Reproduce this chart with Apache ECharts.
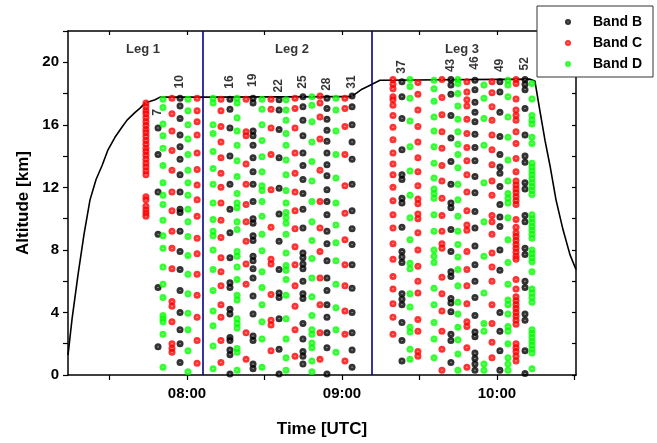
<!DOCTYPE html>
<html>
<head>
<meta charset="utf-8">
<script src="https://cdn.jsdelivr.net/npm/echarts@6/dist/echarts.min.js"></script>
<style>
  html, body { margin: 0; padding: 0; background: #fff; }
  #chart { width: 657px; height: 443px; }
</style>
</head>
<body>
<div id="chart"></div>
<script>
// Sounding profiles: id, time (decimal hours UTC), band, altitudes (km)
const profileIds = [6,7,8,9,10,11,12,14,15,16,17,18,19,20,21,22,23,24,25,26,27,28,29,30,31,36,37,38,39,41,42,43,44,45,46,47,48,49,50,51,52,53];
const profileTimes = [7.735,7.813,7.845,7.903,7.955,8.006,8.065,8.168,8.219,8.277,8.323,8.381,8.426,8.484,8.542,8.594,8.639,8.697,8.748,8.806,8.858,8.903,8.961,9.019,9.065,9.329,9.387,9.439,9.490,9.594,9.645,9.703,9.748,9.806,9.858,9.916,9.968,10.019,10.071,10.123,10.181,10.226];
const profileBands = ['C','B','D','C','B','D','C','D','C','B','D','C','B','D','C','B','D','C','B','D','C','B','D','C','B','C','B','D','C','D','C','B','D','C','B','D','C','B','D','C','B','D'];
const profileAltitudes = [
  [17.4,17.15,16.9,16.7,16.45,16.2,15.95,15.7,15.5,15.25,15.0,14.75,14.5,14.3,14.05,13.8,13.55,13.3,13.05,12.8,11.4,11.2,10.8,10.55,10.35,10.15],
  [15.8,14.1,11.7,9.0,5.6,1.8],
  [17.64,17.1,16.05,15.3,14.5,13.4,12.3,11.5,10.9,9.9,8.9,8.1,6.9,5.8,4.95,3.8,3.6,3.4,2.6,0.5],
  [17.7,16.7,15.6,14.35,13.1,11.7,10.5,9.2,8.1,6.8,4.7,4.4,3.4,2.0,1.7,1.45],
  [17.7,17.2,16.4,15.35,14.6,13.8,12.8,11.7,10.6,10.4,9.2,7.9,6.75,5.4,4.0,2.9,2.0,0.8],
  [17.64,16.9,16.0,15.1,14.1,13.1,12.3,11.5,10.6,9.8,8.85,7.65,6.45,5.2,3.95,2.9,1.55,0.2],
  [17.7,16.9,16.2,15.35,14.2,13.15,12.15,11.2,10.15,8.75,7.75,6.45,5.1,3.7,2.2,0.75],
  [17.7,17.4,16.0,15.45,14.3,13.2,12.2,11.0,9.95,9.2,8.9,8.0,6.75,5.4,4.1,3.15,1.85,0.4],
  [17.64,16.9,15.9,14.9,13.9,12.9,12.0,11.0,9.9,8.8,7.5,6.6,5.7,4.5,3.7,2.2,0.8],
  [17.64,17.0,15.8,14.0,12.2,10.6,9.1,7.5,5.9,5.6,4.2,3.9,2.4,2.2,1.6,1.3,0.06],
  [17.7,17.4,16.45,15.6,14.7,13.7,12.7,11.6,11.0,10.7,9.8,9.3,7.9,7.6,6.9,6.1,5.1,4.8,3.6,3.3,3.0,1.7,1.45,0.3],
  [17.64,15.55,15.3,13.5,12.2,10.9,9.8,8.55,7.1,5.8,2.7,1.0],
  [17.7,17.4,15.6,15.3,14.7,13.9,13.0,12.2,11.1,10.0,9.7,8.9,8.6,7.6,7.3,6.8,6.2,5.05,3.9,2.5,2.2,0.7,0.4],
  [17.64,17.0,16.0,15.0,13.95,13.0,12.1,11.8,11.1,10.15,9.0,7.95,6.6,5.6,4.5,3.4,2.3,0.5],
  [17.64,17.0,15.8,14.1,11.85,9.45,7.4,7.1,5.15,3.5,3.2,1.55],
  [17.6,16.95,15.7,13.9,11.95,10.3,8.55,6.75,5.25,4.95,3.6,1.65,0.06],
  [17.6,16.95,16.3,15.45,14.7,13.75,12.8,11.8,11.0,10.4,10.05,9.7,9.0,7.8,7.0,6.7,6.1,5.1,3.6,2.3,1.1,0.3],
  [17.7,17.05,15.8,14.2,12.9,11.7,10.5,9.35,8.2,7.05,5.7,4.4,2.9,1.2],
  [17.8,17.15,16.3,15.3,14.2,13.4,12.5,11.6,10.6,9.4,7.8,7.5,7.1,6.8,6.0,5.2,4.9,3.3,2.3,1.5,1.2,0.7],
  [17.8,17.25,16.2,14.9,13.65,12.4,11.1,9.8,8.6,7.45,6.2,5.0,3.8,2.9,2.6,2.05,1.75,0.9,0.2],
  [17.85,17.4,16.5,15.1,13.1,11.1,9.4,7.9,6.2,4.5,2.7,1.0],
  [17.7,17.05,16.35,15.65,14.95,14.2,13.45,12.75,11.85,11.1,10.25,9.2,8.4,7.3,6.2,5.4,4.5,3.7,2.7,1.75,0.06],
  [17.7,16.95,15.6,14.1,12.6,11.0,9.6,8.45,7.3,5.8,4.3,2.9,1.45],
  [17.7,17.05,15.9,14.1,12.1,10.35,8.65,7.05,5.7,4.1,2.6,0.9],
  [17.85,17.15,16.0,14.9,13.8,12.2,10.5,9.35,8.35,7.05,5.55,4.0,2.7,1.6,0.5],
  [18.9,18.6,18.3,17.8,17.6,17.25,16.6,15.85,15.05,14.2,13.5,12.8,12.0,11.15,10.25,9.4,8.4,7.4,6.3,5.5,4.55,3.7,2.6],
  [18.75,17.8,16.4,14.4,12.8,12.5,11.3,11.0,9.45,7.9,7.55,7.2,5.2,4.85,4.5,3.35,2.2,0.9],
  [18.9,18.45,17.7,16.25,14.6,13.05,11.5,10.05,8.65,7.15,6.8,5.2,4.35,3.05,2.75,1.65,1.0],
  [18.7,17.95,16.95,15.9,14.9,13.9,13.0,12.1,11.25,10.95,10.3,10.0,9.1,8.0,6.95,6.0,5.25,3.55,2.8,1.5,1.2],
  [18.85,18.3,17.5,16.5,15.6,14.6,13.55,12.6,11.9,11.6,11.3,10.25,9.2,8.0,7.6,7.2,5.55,4.5,3.35,2.3,1.1],
  [18.9,17.75,16.65,15.55,14.5,13.4,12.4,11.3,10.2,9.2,8.4,8.1,6.25,5.2,4.1,2.8,1.65,0.3],
  [18.9,18.55,17.95,16.6,15.15,13.65,12.2,11.0,10.7,9.3,7.9,6.6,6.3,4.9,4.6,4.05,2.6,2.2,0.8],
  [18.9,18.65,18.0,17.2,16.35,15.55,14.75,14.1,13.25,12.2,11.2,10.15,9.2,8.35,7.55,6.75,5.7,4.65,3.9,3.05,2.25,1.35,0.3],
  [18.75,18.1,17.6,17.2,16.35,15.45,14.55,13.7,12.8,11.7,10.5,9.6,9.25,7.9,6.75,5.7,4.55,3.4,3.1,1.75,0.5],
  [18.85,18.25,17.45,16.8,16.2,15.4,14.55,13.7,12.7,11.65,10.45,9.4,8.25,7.05,6.0,4.95,3.8,2.75,2.45,1.4,1.05,0.7,0.3],
  [18.55,17.7,16.4,14.7,12.3,9.8,7.6,5.25,3.3,2.8,0.7,0.3],
  [18.75,18.05,17.15,16.3,15.35,14.4,13.45,12.4,11.5,10.2,9.8,9.0,7.8,6.9,6.0,4.5,3.3,2.1,1.1],
  [18.75,18.1,16.8,15.25,14.1,13.3,12.9,12.05,10.9,10.1,9.5,8.0,6.7,4.0,2.8,1.55,0.3],
  [18.85,18.55,17.8,16.5,15.2,13.75,12.4,11.6,11.3,11.0,10.05,8.65,7.2,5.8,4.8,4.5,3.9,3.1,2.8,2.0,1.1,0.7,0.3],
  [18.9,18.65,17.65,16.95,16.6,16.3,15.55,14.8,13.85,13.0,12.4,12.15,11.9,11.65,11.4,11.15,10.9,9.95,9.45,9.1,8.85,8.6,8.35,8.1,7.85,7.6,7.4,6.1,5.5,5.0,4.75,4.5,4.25,4.0,3.75,3.5,3.25,2.0,1.75,1.5,1.2,0.9],
  [18.9,18.6,18.25,17.05,15.35,14.0,13.6,12.3,11.9,10.2,9.8,8.1,7.7,6.0,5.6,3.9,3.5,1.55,0.1],
  [18.65,17.65,16.6,16.3,16.05,15.2,14.8,13.55,13.3,13.05,12.8,12.55,12.3,12.05,11.8,11.55,10.25,10.0,9.75,9.5,9.25,9.0,8.75,8.0,7.75,7.5,7.25,6.6,5.5,5.25,4.95,4.65,2.9,2.65,2.4,2.15,1.9,1.65,1.4,0.4]
];

// Aircraft flight altitude
const trackTimes = [7.232,7.258,7.297,7.335,7.374,7.413,7.452,7.490,7.535,7.581,7.613,7.665,7.697,7.729,7.794,7.826,8.148,9.052,9.084,9.129,9.194,9.245,10.213,10.245,10.277,10.310,10.342,10.381,10.426,10.471,10.510];
const trackAltitudes = [1.27,3.57,6.43,8.98,11.2,12.5,13.4,14.4,15.2,15.86,16.3,16.8,17.07,17.39,17.6,17.77,17.77,17.8,17.96,18.28,18.6,18.85,18.92,18.8,16.9,15.0,13.4,11.2,9.3,7.7,6.75];

// Flight legs
const legNames = ['Leg 1','Leg 2','Leg 3'];
const legLabelTimes = [7.716,8.677,9.774];
const legLabelAltitude = 20.8;
const legBoundaryTimes = [8.097,9.187];

// Profile numbers annotated above the columns
const labeledProfiles = [7,10,16,19,22,25,28,31,37,43,46,49,52];
const labelAltitudes = [16.8,18.75,18.74,18.85,18.5,18.74,18.6,18.74,19.7,19.8,19.95,19.8,19.9];

// Axis ticks and labels
const xLabelValues = [8,9,10];
const xTickValues = [7.5,8,8.5,9,9.5,10,10.5];
const yLabelValues = [0,4,8,12,16,20];

const bandNames = { B: 'Band B', C: 'Band C', D: 'Band D' };
const FONT = "'Liberation Sans', Arial, sans-serif";

function sphere(inner, main) {
  return { type: 'radial', x: 0.5, y: 0.5, r: 0.5,
    colorStops: [{ offset: 0, color: inner }, { offset: 0.3, color: main }, { offset: 1, color: main }] };
}
const bandColors = {
  B: sphere('#b0b0b0', '#000000'),
  C: sphere('#ffd0d0', '#ff0000'),
  D: sphere('#e0ffe0', '#00ff00')
};

const bandData = { B: [], C: [], D: [] };
profileIds.forEach((id, i) => {
  profileAltitudes[i].forEach(a => bandData[profileBands[i]].push([profileTimes[i], a]));
});

const profileLabelData = labeledProfiles.map((id, k) => ({
  value: [profileTimes[profileIds.indexOf(id)], labelAltitudes[k]], name: String(id)
}));
const legLabelData = legNames.map((n, k) => ({ value: [legLabelTimes[k], legLabelAltitude], name: n }));

const xMin = 7.232, xMax = 10.51;

const chart = echarts.init(document.getElementById('chart'), null, { renderer: 'canvas' });
chart.setOption({
  animation: false,
  backgroundColor: '#fff',
  grid: { left: 68, right: 81, top: 31, bottom: 67 },
  legend: {
    data: ['Band B', 'Band C', 'Band D'],
    orient: 'vertical',
    left: 537, top: 6,
    padding: [9, 11, 6, 28],
    itemWidth: 40, itemHeight: 6, itemGap: 7,
    icon: 'circle',
    borderColor: '#333', borderWidth: 1, backgroundColor: '#fff',
    textStyle: { fontFamily: FONT, fontSize: 14, fontWeight: 'bold', color: '#000' }
  },
  xAxis: [{
    type: 'value', position: 'bottom', min: xMin, max: xMax,
    name: 'Time [UTC]', nameLocation: 'middle', nameGap: 46,
    nameTextStyle: { fontFamily: FONT, fontSize: 17, fontWeight: 'bold', color: '#000' },
    axisLine: { onZero: false, lineStyle: { color: '#000', width: 1.5 } },
    axisTick: { show: true, inside: false, length: 5, customValues: xTickValues, lineStyle: { color: '#000', width: 1.2 } },
    axisLabel: { customValues: xLabelValues, margin: 11, fontFamily: FONT, fontSize: 15, fontWeight: 'bold', color: '#000',
      formatter: v => (v < 10 ? '0' : '') + Math.round(v) + ':00' },
    splitLine: { show: false }
  }, {
    type: 'value', position: 'top', min: xMin, max: xMax,
    axisLine: { onZero: false, lineStyle: { color: '#000', width: 1.5 } },
    axisTick: { show: true, inside: true, length: 4, customValues: xTickValues, lineStyle: { color: '#000', width: 1.2 } },
    axisLabel: { show: false },
    splitLine: { show: false }
  }],
  yAxis: [{
    type: 'value', position: 'left', min: 0, max: 22, interval: 2,
    name: 'Altitude [km]', nameLocation: 'middle', nameGap: 32,
    nameTextStyle: { fontFamily: FONT, fontSize: 17, fontWeight: 'bold', color: '#000' },
    axisLine: { onZero: false, lineStyle: { color: '#000', width: 1.5 } },
    axisTick: { show: true, inside: false, length: 5, lineStyle: { color: '#000', width: 1.2 } },
    axisLabel: { customValues: yLabelValues, margin: 9, fontFamily: FONT, fontSize: 15, fontWeight: 'bold', color: '#000' },
    splitLine: { show: false }
  }, {
    type: 'value', position: 'right', min: 0, max: 22, interval: 2,
    axisLine: { onZero: false, lineStyle: { color: '#000', width: 1.5 } },
    axisTick: { show: true, inside: true, length: 4, lineStyle: { color: '#000', width: 1.2 } },
    axisLabel: { show: false },
    splitLine: { show: false }
  }],
  series: [
    {
      name: 'flight', type: 'line', xAxisIndex: 0, yAxisIndex: 0,
      data: trackTimes.map((t, i) => [t, trackAltitudes[i]]),
      showSymbol: false, symbol: 'none', silent: true, z: 1,
      lineStyle: { color: '#000', width: 1.6 },
      markLine: {
        silent: true, symbol: ['none', 'none'], label: { show: false },
        lineStyle: { color: '#00008b', width: 1.6, type: 'solid' },
        data: legBoundaryTimes.map(t => ({ xAxis: t }))
      }
    },
    ...['B', 'C', 'D'].map(b => ({
      name: bandNames[b], type: 'scatter', xAxisIndex: 0, yAxisIndex: 0,
      data: bandData[b], symbol: 'circle', symbolSize: 7, z: 3,
      itemStyle: { color: bandColors[b], borderWidth: 0 }
    })),
    {
      name: 'profile numbers', type: 'scatter', xAxisIndex: 0, yAxisIndex: 0,
      data: profileLabelData, symbolSize: 0, silent: true, z: 4,
      label: { show: true, position: 'inside', rotate: 90, formatter: p => p.name,
        fontFamily: FONT, fontSize: 12, fontWeight: 'bold', color: '#000' }
    },
    {
      name: 'legs', type: 'scatter', xAxisIndex: 0, yAxisIndex: 0,
      data: legLabelData, symbolSize: 0, silent: true, z: 4,
      label: { show: true, position: 'inside', formatter: p => p.name,
        fontFamily: FONT, fontSize: 13, fontWeight: 'bold', color: '#000' }
    }
  ]
});
</script>
</body>
</html>
